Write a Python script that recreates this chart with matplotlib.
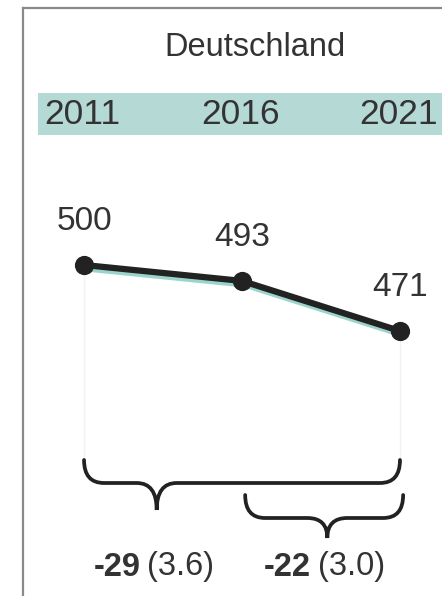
import matplotlib.pyplot as plt
import matplotlib.patheffects as pe
from matplotlib.path import Path
from matplotlib.patches import PathPatch, Rectangle
from matplotlib.lines import Line2D
import matplotlib.transforms as mtransforms

# data
years = [2011, 2016, 2021]
values = [500, 493, 471]
region = "Deutschland"
diff_labels = ["-29", "-22"]
se_labels = ["(3.6)", "(3.0)"]
brace_spans = [(2011, 2021), (2016, 2021)]

plt.rcParams['font.family'] = ['Liberation Sans', 'DejaVu Sans']
W, H = 442, 596
txt = "#333333"
teal = "#b5d9d5"

fig = plt.figure(figsize=(W / 100, H / 100), dpi=100)
fig.patch.set_facecolor("white")
ax = fig.add_axes([0, 0, 1, 1])
ax.set_xlim(2008.34, 2022.33)
ax.set_ylim(354.6, 616.4)
ax.axis("off")


def fy(py):
    # pixel row -> axes fraction
    return 1 - py / H


# frame and teal year band
ax.add_line(Line2D([23 / W, 23 / W], [0, fy(8)], transform=ax.transAxes, color="#8a8a8a", lw=1.6))
ax.add_line(Line2D([23 / W, 1], [fy(8), fy(8)], transform=ax.transAxes, color="#8a8a8a", lw=1.6))
ax.add_patch(Rectangle((38 / W, fy(135)), 1 - 38 / W, (135 - 93) / H, transform=ax.transAxes,
                       facecolor=teal, edgecolor="none", zorder=0))
ax.text(255 / W, fy(48), region, transform=ax.transAxes, ha="center", va="center",
        fontsize=23.5, color=txt)

trans = mtransforms.blended_transform_factory(ax.transData, ax.transAxes)
for yr in years:
    ax.text(yr - 0.05, fy(115), str(yr), transform=trans, ha="center", va="center",
            fontsize=25.5, color=txt, zorder=2)

# faint guides
for yr, v in [(years[0], values[0]), (years[-1], values[-1])]:
    ax.plot([yr, yr], [v, 410], color="#f1f1f1", lw=1, zorder=1)

# line with teal shadow
ax.plot(years, values, color="#222222", lw=4.5, solid_capstyle="round", zorder=3,
        path_effects=[pe.SimpleLineShadow(offset=(1.5, -2.5), shadow_color="#8fd0c7", alpha=0.9),
                      pe.Normal()])
ax.scatter(years, values, s=165, color="#222222", zorder=4)

for yr, v in zip(years, values):
    ax.annotate(str(v), (yr, v), xytext=(0, 31), textcoords="offset points",
                ha="center", va="center", fontsize=24, color=txt)


def brace(x0, x1, xt, ytop, ymid, ytip, rx=0.63):
    verts = [(x0, ytop), (x0, ymid), (x0 + rx, ymid),
             (xt - rx, ymid), (xt, ymid), (xt, ytip),
             (xt, ymid), (xt + rx, ymid),
             (x1 - rx, ymid), (x1, ymid), (x1, ytop)]
    codes = [Path.MOVETO, Path.CURVE3, Path.CURVE3,
             Path.LINETO, Path.CURVE3, Path.CURVE3,
             Path.CURVE3, Path.CURVE3,
             Path.LINETO, Path.CURVE3, Path.CURVE3]
    ax.add_patch(PathPatch(Path(verts, codes), transform=trans, fill=False,
                           edgecolor="#222222", lw=2.7, capstyle="round"))


tips = [2013.3, 2018.7]
rows = [(460, 483, 510), (495, 518, 538)]
shift = [0.0, 0.1]
for (a, b), xt, (yt, ym, yp), s in zip(brace_spans, tips, rows, shift):
    brace(a + s, b + s, xt, fy(yt), fy(ym), fy(yp))

for xt, d, se in zip(tips, diff_labels, se_labels):
    ax.text(xt - 0.52, fy(567), d, transform=trans, ha="right", va="center",
            fontsize=23.5, fontweight="bold", color=txt)
    ax.text(xt - 0.3, fy(567), se, transform=trans, ha="left", va="center",
            fontsize=23.5, color=txt)

fig.savefig("out.png", dpi=100)
